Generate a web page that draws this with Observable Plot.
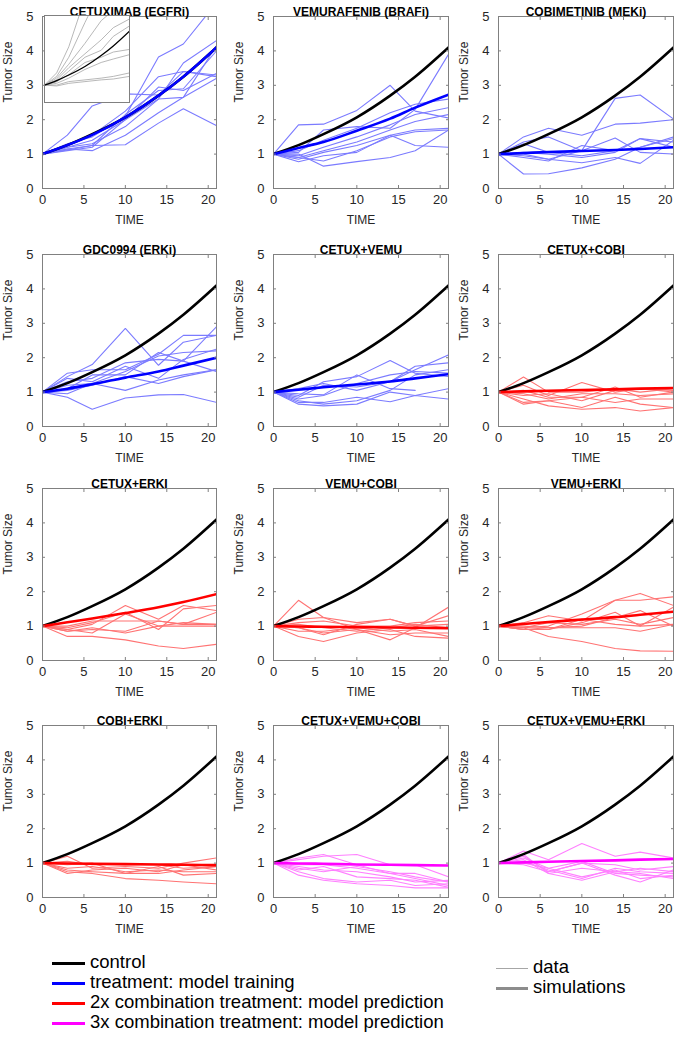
<!DOCTYPE html>
<html><head><meta charset="utf-8">
<script src="https://cdn.jsdelivr.net/npm/d3@7"></script>
<script src="https://cdn.jsdelivr.net/npm/@observablehq/plot@0.6"></script>
<style>
body{margin:0;background:#fff;}
#root{position:relative;width:675px;height:1043px;font-family:"Liberation Sans",Arial,sans-serif;overflow:hidden;}
.panel{position:absolute;}
.lg-line{position:absolute;height:0;}
.lg-text{position:absolute;font-size:18.5px;color:#000;line-height:20px;white-space:nowrap;}
</style></head><body><div id="root"></div>
<script>
// ---------- data ----------
const times = [0, 3, 6, 10, 14, 17, 21];
const xTicks = [0, 5, 10, 15, 20];
const yTicks = [0, 1, 2, 3, 4, 5];
const titles = ["CETUXIMAB (EGFRi)", "VEMURAFENIB (BRAFi)", "COBIMETINIB (MEKi)",
  "GDC0994 (ERKi)", "CETUX+VEMU", "CETUX+COBI",
  "CETUX+ERKI", "VEMU+COBI", "VEMU+ERKI",
  "COBI+ERKI", "CETUX+VEMU+COBI", "CETUX+VEMU+ERKI"];
const kinds = ["train", "train", "train", "train", "train", "combo2",
  "combo2", "combo2", "combo2", "combo2", "combo3", "combo3"];
const controlSim = [1, 1.26, 1.58, 2.07, 2.7, 3.25, 4.1];
const controlData = [
  [1, 1.7, 3.2, 6.0, 7, 7, 7],
  [1, 1.5, 2.6, 4.6, 6.5, 7, 7],
  [1, 1.4, 2.2, 3.4, 4.7, 5.3, 6],
  [1, 1.3, 2.0, 2.8, 3.6, 4.3, 4.8],
  [1, 1.2, 1.8, 2.6, 3.0, 3.8, 4.4],
  [1, 1.2, 1.6, 2.3, 2.6, 2.9, 3.05],
  [1, 1.1, 1.4, 1.9, 2.3, 2.5, 2.75],
  [1, 1.0, 1.2, 1.3, 1.4, 1.5, 1.7],
  [1, 0.95, 1.1, 1.2, 1.3, 1.35, 1.5]
];
const simCurves = [
  [1, 1.26, 1.56, 2.07, 2.7, 3.25, 4.1],
  [1, 1.18, 1.35, 1.68, 2.03, 2.35, 2.73],
  [1, 1.03, 1.06, 1.09, 1.12, 1.15, 1.2],
  [1, 1.1, 1.23, 1.42, 1.6, 1.77, 2.0],
  [1, 1.07, 1.14, 1.22, 1.31, 1.4, 1.52],
  [1, 1.02, 1.04, 1.06, 1.08, 1.1, 1.12],
  [1, 1.11, 1.22, 1.38, 1.55, 1.7, 1.93],
  [1, 0.99, 0.98, 0.97, 0.96, 0.95, 0.94],
  [1, 1.06, 1.12, 1.19, 1.26, 1.33, 1.42],
  [1, 0.99, 0.98, 0.97, 0.96, 0.95, 0.94],
  [1, 0.99, 0.98, 0.96, 0.95, 0.94, 0.93],
  [1, 1.02, 1.04, 1.06, 1.08, 1.1, 1.12]
];
const dataCetux = [
  [1, 1.55, 2.4, 2.75, 2.72, 3.4, 3.25],
  [1, 1.3, 1.5, 2.1, 3.82, 4.2, 5.4],
  [1, 1.12, 1.25, 1.27, 1.9, 2.32, 1.83],
  [1, 1.15, 1.1, 1.55, 2.2, 2.65, 3.2],
  [1, 1.2, 1.4, 2.0, 2.95, 2.85, 3.35],
  [1, 1.25, 1.55, 2.25, 3.25, 3.4, 3.3],
  [1, 1.2, 1.3, 1.8, 2.6, 3.65, 4.3],
  [1, 1.15, 1.25, 2.15, 2.85, 2.9, 4.0],
  [1, 1.1, 1.2, 2.0, 2.6, 2.65, 4.15]
];
const dataVemu = [
  [1, 1.85, 1.87, 2.27, 3.0, 2.25, 2.05],
  [1, 1.05, 1.7, 1.8, 1.75, 2.3, 3.9],
  [1, 1.1, 1.4, 1.75, 2.2, 2.45, 2.6],
  [1, 0.95, 1.2, 1.5, 1.85, 2.15, 2.35],
  [1, 0.9, 1.1, 1.35, 1.7, 1.95, 2.15],
  [1, 0.85, 1.05, 1.25, 1.55, 1.7, 1.75],
  [1, 0.78, 0.95, 1.05, 1.55, 1.25, 1.2],
  [1, 1.0, 0.65, 0.78, 0.9, 1.1, 1.7],
  [1, 0.9, 0.8, 1.1, 1.5, 1.65, 1.7]
];
const dataCobi = [
  [1, 1.5, 1.75, 1.55, 1.87, 1.9, 2.0],
  [1, 1.0, 0.85, 1.1, 2.62, 2.72, 2.02],
  [1, 0.42, 0.43, 0.6, 0.85, 1.2, 1.45],
  [1, 1.35, 1.5, 1.1, 1.47, 1.05, 1.0],
  [1, 0.9, 0.8, 1.25, 1.1, 1.45, 1.35],
  [1, 0.95, 0.85, 0.75, 0.9, 0.73, 1.4],
  [1, 1.05, 1.0, 0.9, 1.05, 1.45, 1.2],
  [1, 1.3, 1.05, 0.95, 1.1, 1.2, 1.5]
];
const dataErk = [
  [1, 1.45, 1.8, 2.85, 1.78, 2.45, 2.65],
  [1, 1.55, 1.65, 1.65, 2.1, 2.65, 2.65],
  [1, 1.3, 1.4, 1.85, 1.95, 1.9, 2.9],
  [1, 1.2, 1.25, 1.6, 2.05, 2.15, 2.2],
  [1, 1.1, 1.5, 1.5, 2.15, 1.9, 1.6],
  [1, 1.05, 1.2, 1.45, 1.25, 1.45, 1.65],
  [1, 0.95, 1.25, 1.05, 1.35, 1.5, 1.65],
  [1, 0.85, 0.5, 0.83, 0.92, 0.93, 0.7],
  [1, 1.4, 1.3, 1.75, 1.4, 1.95, 2.25]
];
const dataCetuxVemu = [
  [1, 0.9, 1.3, 1.45, 1.92, 1.55, 1.45],
  [1, 1.1, 1.25, 1.05, 1.3, 1.65, 2.08],
  [1, 0.95, 0.92, 1.5, 1.1, 1.05, null],
  [1, 0.85, 1.2, 1.15, 1.3, 1.75, 1.85],
  [1, 0.75, 0.65, 0.75, 1.05, 1.5, 1.65],
  [1, 0.65, 0.6, 0.65, 1.0, 0.9, 1.1],
  [1, 0.8, 0.9, 1.25, 1.5, 1.6, 1.55],
  [1, 0.7, 0.7, 0.85, 0.72, 0.9, 0.8]
];
const dataCetuxCobi = [
  [1, 1.44, 1.0, 1.0, 1.1, 1.0, 1.1],
  [1, 1.2, 0.9, 1.28, 1.0, 1.1, 1.05],
  [1, 1.05, 0.85, 0.85, 1.15, 0.85, 1.0],
  [1, 0.7, 0.75, 0.85, 0.7, 0.8, 0.8],
  [1, 0.65, 0.75, 0.55, 0.85, 0.65, 0.55],
  [1, 0.8, 0.6, 0.5, 0.55, 0.45, 0.55],
  [1, 0.9, 0.95, 0.75, 1.05, 1.1, 1.0],
  [1, 0.95, 0.8, 0.95, 0.95, 0.9, 0.95]
];
const dataCetuxErk = [
  [1, 0.9, 1.05, 1.6, 1.2, 1.6, 1.45],
  [1, 0.95, 1.1, 1.4, 0.9, 1.5, 1.6],
  [1, 1.0, 1.15, 1.15, 1.15, 1.05, 1.4],
  [1, 0.85, 0.9, 0.85, 1.15, 1.05, 1.05],
  [1, 0.85, 0.95, 0.8, 1.0, 1.0, 1.0],
  [1, 0.7, 0.7, 0.6, 0.42, 0.35, 0.47],
  [1, 0.9, 0.8, 1.35, 1.0, 1.1, 1.05]
];
const dataVemuCobi = [
  [1, 1.75, 1.25, 0.9, 0.6, 0.95, 1.55],
  [1, 1.2, 1.25, 1.1, 1.2, 1.0, 1.3],
  [1, 1.1, 1.15, 1.0, 1.0, 1.1, 1.15],
  [1, 1.05, 0.95, 0.85, 0.95, 1.05, 0.95],
  [1, 0.95, 0.8, 0.9, 0.75, 0.8, 0.8],
  [1, 0.7, 0.55, 0.8, 0.9, 0.7, 0.65],
  [1, 0.95, 0.75, 1.05, 1.2, 1.0, 1.05],
  [1, 0.85, 0.85, 0.95, 0.85, 0.9, 0.7]
];
const dataVemuErk = [
  [1, 1.1, 1.3, 1.15, 1.75, 1.95, 1.6],
  [1, 0.95, 1.0, 1.35, 1.75, 1.75, 1.85],
  [1, 0.9, 0.9, 1.1, 1.4, 1.0, 1.55],
  [1, 0.95, 1.1, 1.05, 1.2, 1.05, 1.25],
  [1, 0.9, 0.95, 0.95, 0.95, 0.85, 1.05],
  [1, 0.95, 0.7, 0.55, 0.35, 0.28, 0.27],
  [1, 0.9, 0.9, 1.2, 1.05, 1.0, 1.05],
  [1, 1.0, 0.95, 1.0, 1.25, 1.45, 1.0]
];
const dataCobiErk = [
  [1, 1.2, 0.85, 0.9, 0.85, 1.0, 1.15],
  [1, 1.05, 0.95, 0.95, 0.95, 0.85, 0.9],
  [1, 0.95, 1.0, 0.7, 0.9, 0.65, 0.7],
  [1, 0.75, 0.7, 0.55, 0.5, 0.45, 0.4],
  [1, 0.7, 0.8, 0.85, 0.75, 0.95, 0.8],
  [1, 0.85, 0.9, 0.75, 0.8, 0.75, 0.75],
  [1, 0.8, 0.75, 0.7, 0.7, 0.8, 0.9]
];
const dataCetuxVemuCobi = [
  [1, 1.1, 1.2, 1.25, 0.95, 0.95, 0.6],
  [1, 1.15, 1.25, 0.95, 0.7, 0.7, 0.45],
  [1, 0.95, 0.95, 0.85, 0.7, 0.55, 0.35],
  [1, 0.8, 0.9, 0.6, 0.55, 0.5, 0.3],
  [1, 0.75, 0.55, 0.45, 0.5, 0.35, 0.4],
  [1, 0.65, 0.5, 0.4, 0.35, 0.28, 0.28],
  [1, 0.85, 0.75, 0.9, 0.75, 0.6, 0.45],
  [1, 0.9, 0.8, 0.75, 0.6, 0.45, 0.5]
];
const dataCetuxVemuErk = [
  [1, 1.35, 1.1, 1.57, 1.2, 1.32, 1.15],
  [1, 1.2, 0.75, 1.0, 0.95, 0.8, 0.9],
  [1, 1.1, 0.7, 0.5, 0.75, 0.7, 0.55],
  [1, 1.05, 0.8, 0.55, 0.85, 0.75, 0.7],
  [1, 0.95, 0.75, 1.0, 0.65, 0.45, 0.8],
  [1, 1.25, 0.7, 0.85, 0.75, 0.85, 0.75],
  [1, 1.0, 0.85, 1.05, 0.7, 0.65, 0.6],
  [1, 1.15, 0.85, 0.6, 0.8, 0.55, 0.65]
];
const panelData = [dataCetux, dataVemu, dataCobi, dataErk, dataCetuxVemu, dataCetuxCobi,
  dataCetuxErk, dataVemuCobi, dataVemuErk, dataCobiErk, dataCetuxVemuCobi, dataCetuxVemuErk];
const legendLabels = ["control", "treatment: model training",
  "2x combination treatment: model prediction", "3x combination treatment: model prediction"];
const legendStyleLabels = ["data", "simulations"];

// ---------- styling ----------
const simColor = {train: "#0000ff", combo2: "#ff0000", combo3: "#ff00ff"};
const dataColor = {train: "#7b7bff", combo2: "#ff7373", combo3: "#ff80ff"};
const FONT = '"Liberation Sans", Arial, sans-serif';
const frameColor = "#808080";
const colX = [0, 225, 450], mLeft = [42, 48, 48], mRight = [9, 2, 2];
const rowY = [0, 238, 472, 709];

function toRows(series) {
  const rows = [];
  series.forEach((s, id) => s.forEach((v, j) => rows.push({id, t: times[j], v})));
  return rows;
}

const root = document.getElementById("root");

titles.forEach((title, i) => {
  const col = i % 3, row = Math.floor(i / 3);
  const kind = kinds[i];
  const svg = Plot.plot({
    width: 225, height: 238,
    marginLeft: mLeft[col], marginRight: mRight[col], marginTop: 16, marginBottom: 50,
    x: {domain: [0, 21]},
    y: {domain: [0, 5]},
    style: {fontFamily: FONT, fontSize: "13px", color: "#262626", background: "transparent", overflow: "visible"},
    marks: [
      Plot.line(toRows(panelData[i]), {x: "t", y: "v", z: "id", stroke: dataColor[kind], strokeWidth: 1.1, clip: true}),
      Plot.line(toRows([controlSim]), {x: "t", y: "v", stroke: "#000", strokeWidth: 2.6, curve: "monotone-x", clip: true}),
      Plot.line(toRows([simCurves[i]]), {x: "t", y: "v", stroke: simColor[kind], strokeWidth: 2.6, curve: "monotone-x", clip: true}),
      Plot.frame({stroke: frameColor}),
      Plot.axisX(xTicks, {anchor: "bottom", tickSize: 0, tickPadding: 6, fontSize: 13, label: null}),
      Plot.axisY(yTicks, {anchor: "left", tickSize: 0, tickPadding: 9, fontSize: 13, label: null}),
      Plot.axisX(xTicks, {anchor: "bottom", tickSize: 3, insetBottom: 3, tickFormat: () => "", label: null, stroke: frameColor}),
      Plot.axisX(xTicks, {anchor: "top", tickSize: 3, insetTop: 3, tickFormat: () => "", label: null, stroke: frameColor}),
      Plot.axisY(yTicks, {anchor: "left", tickSize: 3, insetLeft: 3, tickFormat: () => "", label: null, stroke: frameColor}),
      Plot.axisY(yTicks, {anchor: "right", tickSize: 3, insetRight: 3, tickFormat: () => "", label: null, stroke: frameColor}),
      Plot.text([title], {text: d => d, frameAnchor: "top", dy: -9, fontWeight: "bold", fontSize: 12, fill: "#000"}),
      Plot.text(["TIME"], {text: d => d, frameAnchor: "bottom", dy: 35, fontSize: 12, fill: "#262626"}),
      Plot.text(["Tumor Size"], {text: d => d, frameAnchor: "left", dx: -34, rotate: -90, fontSize: 12, fill: "#262626"})
    ]
  });
  svg.classList.add("panel");
  svg.style.left = colX[col] + "px";
  svg.style.top = rowY[row] + "px";
  root.appendChild(svg);
});

// inset in first panel: control data and control simulation
const inset = Plot.plot({
  width: 85, height: 87, margin: 0,
  x: {domain: [0, 21], axis: null},
  y: {domain: [0, 5], axis: null},
  style: {background: "#fff", overflow: "visible"},
  marks: [
    Plot.line(toRows(controlData), {x: "t", y: "v", z: "id", stroke: "#b0b0b0", strokeWidth: 0.9, clip: true}),
    Plot.line(toRows([controlSim]), {x: "t", y: "v", stroke: "#000", strokeWidth: 1.3, curve: "monotone-x", clip: true}),
    Plot.frame({stroke: frameColor})
  ]
});
inset.classList.add("panel");
inset.style.left = "44px";
inset.style.top = "15px";
root.appendChild(inset);

// legend
const legendColors = ["#000", "#0000ff", "#ff0000", "#ff00ff"];
legendLabels.forEach((lab, k) => {
  const y = 963 + k * 20;
  const ln = document.createElement("div");
  ln.className = "lg-line";
  ln.style.cssText = `left:52px;width:33px;top:${y - 1.5}px;border-top:3px solid ${legendColors[k]};`;
  root.appendChild(ln);
  const tx = document.createElement("div");
  tx.className = "lg-text";
  tx.style.cssText = `left:90px;top:${y - 11}px;`;
  tx.textContent = lab;
  root.appendChild(tx);
});
legendStyleLabels.forEach((lab, k) => {
  const y = 968 + k * 20;
  const ln = document.createElement("div");
  ln.className = "lg-line";
  ln.style.cssText = `left:496px;width:32px;top:${y - (k ? 1.5 : 0.5)}px;border-top:${k ? 3 : 1}px solid ${k ? "#8c8c8c" : "#a6a6a6"};`;
  root.appendChild(ln);
  const tx = document.createElement("div");
  tx.className = "lg-text";
  tx.style.cssText = `left:533px;top:${y - 11}px;`;
  tx.textContent = lab;
  root.appendChild(tx);
});
</script></body></html>
